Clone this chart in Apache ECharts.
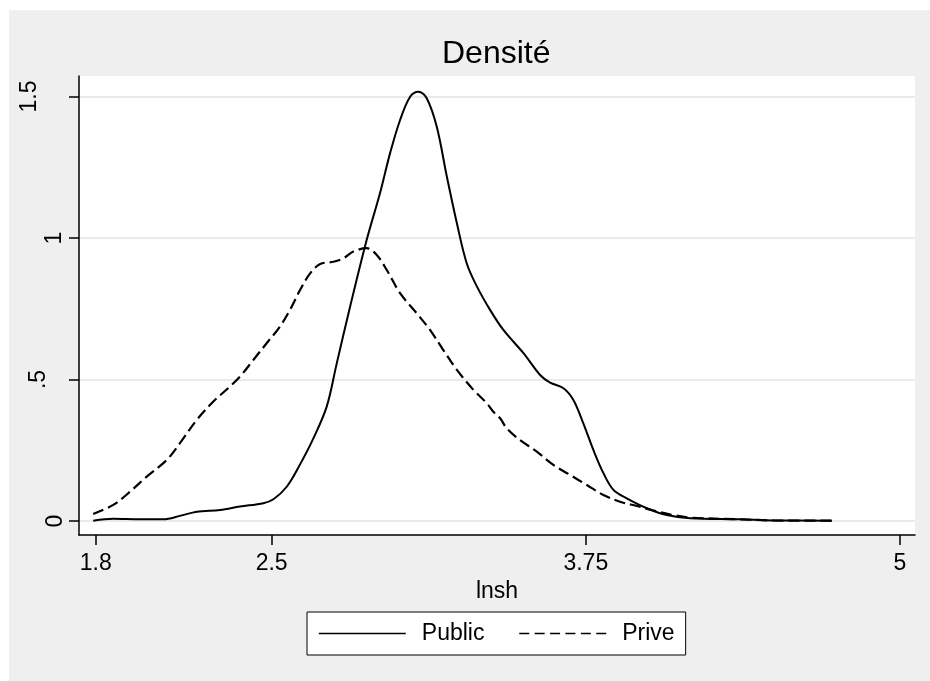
<!DOCTYPE html>
<html>
<head>
<meta charset="utf-8">
<script src="https://cdn.jsdelivr.net/npm/echarts@6/dist/echarts.min.js"></script>
<style>
html,body{margin:0;padding:0;background:#fff;}
#wrap{position:relative;width:930px;height:681px;background:#fff;}
#panel{position:absolute;left:9px;top:10px;width:921px;height:671px;background:#efefef;}
#chart{position:absolute;left:0;top:0;width:930px;height:681px;}
</style>
</head>
<body>
<div id="wrap"><div id="panel"></div><div id="chart"></div></div>
<script>
// ---- data ----
const titleText = 'Densité';
const xName = 'lnsh';
const seriesNames = ['Public', 'Prive'];
const xTicks = [1.8, 2.5, 3.75, 5];
const yTicks = [0, 0.5, 1, 1.5];
const yTickLabels = ['0', '.5', '1', '1.5'];

const publicX = [1.79,1.87,1.976,2.069,2.135,2.202,2.295,2.374,2.467,2.507,2.560,2.613,2.666,2.719,2.759,2.812,2.878,2.931,2.971,3.011,3.051,3.084,3.117,3.157,3.197,3.237,3.276,3.316,3.369,3.422,3.502,3.568,3.608,3.661,3.700,3.740,3.780,3.820,3.860,3.913,3.993,4.072,4.165,4.364,4.496,4.729];
const publicY = [0.001,0.008,0.006,0.006,0.018,0.033,0.039,0.051,0.063,0.077,0.121,0.200,0.292,0.404,0.557,0.757,0.993,1.158,1.299,1.417,1.499,1.517,1.494,1.393,1.217,1.052,0.911,0.830,0.746,0.675,0.593,0.516,0.489,0.469,0.428,0.345,0.251,0.169,0.110,0.080,0.045,0.021,0.010,0.006,0.002,0.001];

const priveX = [1.79,1.87,1.937,2.003,2.083,2.135,2.202,2.268,2.334,2.374,2.427,2.480,2.533,2.573,2.613,2.653,2.693,2.746,2.785,2.825,2.878,2.918,2.958,3.011,3.077,3.130,3.183,3.237,3.303,3.356,3.382,3.409,3.435,3.488,3.555,3.621,3.687,3.754,3.820,3.886,3.953,4.019,4.098,4.165,4.364,4.496,4.729];
const priveY = [0.025,0.057,0.104,0.157,0.216,0.275,0.357,0.422,0.475,0.510,0.569,0.628,0.687,0.746,0.816,0.875,0.908,0.916,0.928,0.952,0.964,0.940,0.887,0.805,0.734,0.675,0.604,0.534,0.463,0.416,0.386,0.363,0.328,0.286,0.245,0.198,0.163,0.127,0.092,0.068,0.053,0.037,0.021,0.012,0.006,0.002,0.001];

const pairs = (xs, ys) => xs.map((x, i) => [x, ys[i]]);

const chart = echarts.init(document.getElementById('chart'), null, {renderer: 'canvas'});
const FONT = 'Liberation Sans, Arial, Helvetica, sans-serif';
const yPad = {'0': 0, '.5': 17, '1': 1, '1.5': 26};

const option = {
  backgroundColor: 'transparent',
  animation: false,
  title: {
    text: titleText,
    left: 442,
    top: 38,
    padding: 0,
    textStyle: {fontFamily: FONT, fontSize: 32, fontWeight: 'normal', color: '#000', lineHeight: 32}
  },
  legend: {
    left: 307,
    top: 612,
    padding: [10, 11, 10, 11],
    itemWidth: 87,
    itemHeight: 14,
    itemGap: 34,
    backgroundColor: '#fff',
    borderColor: '#000',
    borderWidth: 1,
    borderRadius: 0,
    itemStyle: {opacity: 0},
    textStyle: {fontFamily: FONT, fontSize: 23, color: '#000', lineHeight: 23, padding: [0, 0, 0, 11]},
    data: [
      {name: seriesNames[0], itemStyle: {opacity: 0}, lineStyle: {width: 1.6}},
      {name: seriesNames[1], itemStyle: {opacity: 0}, lineStyle: {width: 1.6, type: [10, 5.4]}}
    ]
  },
  grid: {left: 79, top: 76, right: 15, bottom: 146, show: true, backgroundColor: '#fff', borderWidth: 0, containLabel: false, outerBoundsMode: 'none'},
  xAxis: {
    type: 'value',
    min: 1.7335,
    max: 5.0597,
    name: xName,
    nameLocation: 'middle',
    nameGap: 39,
    nameTextStyle: {fontFamily: FONT, fontSize: 23, color: '#000', verticalAlign: 'top'},
    axisLine: {show: true, onZero: false, lineStyle: {color: '#000', width: 1.5}},
    axisTick: {show: true, length: 10, customValues: xTicks, lineStyle: {color: '#000', width: 1.5}},
    axisLabel: {show: true, customValues: xTicks, margin: 17, fontFamily: FONT, fontSize: 23, color: '#000',
      formatter: v => String(v)},
    splitLine: {show: false}
  },
  yAxis: {
    type: 'value',
    min: -0.0495,
    max: 1.5724,
    axisLine: {show: true, onZero: false, lineStyle: {color: '#000', width: 1.5}},
    axisTick: {show: true, length: 10, customValues: yTicks, lineStyle: {color: '#000', width: 1.5}},
    axisLabel: {show: true, customValues: yTicks, rotate: 90, margin: 12, fontFamily: FONT, fontSize: 23, color: '#000',
      formatter: v => {
        const i = yTicks.findIndex(t => Math.abs(t - v) < 1e-9);
        const s = i >= 0 ? yTickLabels[i] : String(v);
        const key = {'0': 'a', '.5': 'b', '1': 'c', '1.5': 'd'}[s] || 'a';
        return '{' + key + '|' + s + '}';
      },
      rich: {
        a: {fontFamily: FONT, fontSize: 23, color: '#000', padding: [0, 0, yPad['0'], 0]},
        b: {fontFamily: FONT, fontSize: 23, color: '#000', padding: [0, 0, yPad['.5'], 0]},
        c: {fontFamily: FONT, fontSize: 23, color: '#000', padding: [0, 0, yPad['1'], 0]},
        d: {fontFamily: FONT, fontSize: 23, color: '#000', padding: [0, 0, yPad['1.5'], 0]}
      }
    },
    splitLine: {show: true, lineStyle: {color: '#e3e3e3', width: 1.5}}
  },
  series: [
    {
      name: seriesNames[0], type: 'line', data: pairs(publicX, publicY),
      smooth: 0.35, symbol: 'none', showSymbol: false,
      lineStyle: {color: '#000', width: 2, type: 'solid'}, itemStyle: {color: '#000'}
    },
    {
      name: seriesNames[1], type: 'line', data: pairs(priveX, priveY),
      smooth: 0.35, symbol: 'none', showSymbol: false,
      lineStyle: {color: '#000', width: 2.2, type: [11, 5]}, itemStyle: {color: '#000'}
    }
  ]
};
chart.setOption(option);
</script>
</body>
</html>
